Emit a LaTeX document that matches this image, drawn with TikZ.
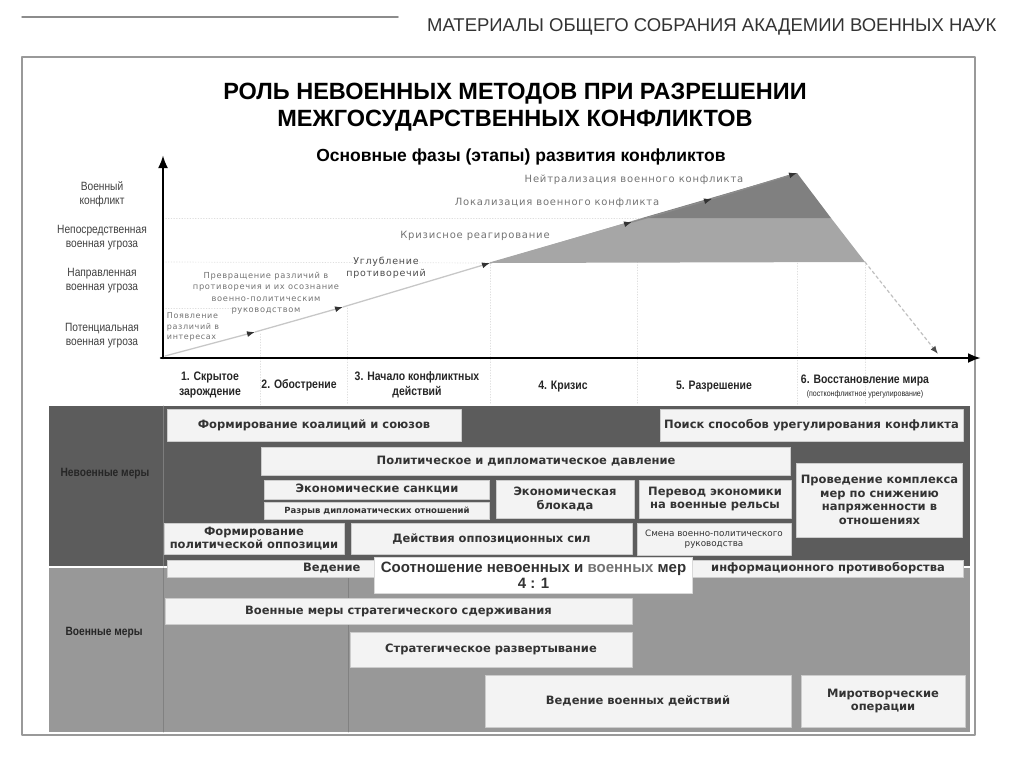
\documentclass[tikz,border=0pt]{standalone}
\usepackage{fontspec}
\setmainfont{DejaVu Sans}
\newfontfamily\arialfont{Liberation Sans}
\newfontfamily\narrowfont[FakeStretch=0.85]{Liberation Sans}
\newfontfamily\spacedfont[LetterSpace=8]{DejaVu Sans}
\usetikzlibrary{arrows.meta}
\definecolor{bandnon}{RGB}{92,92,92}
\definecolor{bandmil}{RGB}{152,152,152}
\definecolor{shadelow}{RGB}{166,166,166}
\definecolor{shadeup}{RGB}{128,128,128}
\definecolor{boxfill}{RGB}{243,243,243}

\begin{document}
\begin{tikzpicture}[x=1pt,y=-1pt,line cap=round,line join=round,>=Latex,
  box/.style={draw=black!20,fill=boxfill,inner sep=1pt,align=center,text=black!80,
    font=\bfseries\fontsize{11.5}{13.5}\selectfont},
  smallbox/.style={box,font=\bfseries\fontsize{8.5}{10}\selectfont},
  tinybox/.style={box,font=\fontsize{8.8}{10.5}\selectfont},
  ylab/.style={align=center,text=black!75,font=\narrowfont\fontsize{12}{14}\selectfont},
  phase/.style={align=center,text=black!85,font=\narrowfont\bfseries\fontsize{12.3}{14.5}\selectfont},
  note/.style={align=center,text=black!55,font=\spacedfont\fontsize{10}{12}\selectfont},
  bandlab/.style={text=black!85,font=\narrowfont\bfseries\fontsize{12}{14}\selectfont},
  gline/.style={black!22,line width=1.3pt},
  tiparrow/.style={gline,-{Latex[length=8pt,width=6pt,color=black!80]}},
  dotline/.style={black!13,dotted,line width=0.7pt}]
  \useasboundingbox (0,0) rectangle (1024,758);

  \draw[black!45,line width=1.5pt] (22,17) -- (398,17);
  \node[anchor=east,text=black!80,font=\arialfont\fontsize{18.5}{20}\selectfont] (hdr) at (1000,27)
    {МАТЕРИАЛЫ ОБЩЕГО СОБРАНИЯ АКАДЕМИИ ВОЕННЫХ НАУК};
  \draw[black!40,line width=1.5pt] (22,735) -- (22,57) -- (975,57) -- (975,735) -- cycle;

  \node[align=center,font=\arialfont\bfseries\fontsize{23.5}{27}\selectfont] (title) at (515,107)
    {РОЛЬ НЕВОЕННЫХ МЕТОДОВ ПРИ РАЗРЕШЕНИИ\\МЕЖГОСУДАРСТВЕННЫХ КОНФЛИКТОВ};
  \node[font=\arialfont\bfseries\fontsize{17.5}{20}\selectfont] (sub) at (521,157)
    {Основные фазы (этапы) развития конфликтов};

  \node[ylab] (yl1) at (102,194) {Военный\\конфликт};
  \node[ylab] (yl2) at (102,238) {Непосредственная\\военная угроза};
  \node[ylab] (yl3) at (102,281) {Направленная\\военная угроза};
  \node[ylab] (yl4) at (102,336) {Потенциальная\\военная угроза};

  \coordinate (o) at (165,356);
  \coordinate (p1) at (255,332);
  \coordinate (p2) at (343,307);
  \coordinate (p3) at (490,263);
  \coordinate (p4) at (632,222);
  \coordinate (p5) at (712,199);
  \coordinate (peak) at (797,173);
  \coordinate (q1) at (642,218);
  \coordinate (q2) at (831,218);
  \coordinate (q3) at (865,262);
  \coordinate (end) at (938,354);

  \draw[dotline] (163,218) -- (q1);
  \draw[dotline] (163,262) -- (p3);
  \draw[dotline] (163,308) -- (260,308);
  \draw[dotline] (260,334) -- (260,405);
  \draw[dotline] (347,308) -- (347,405);
  \draw[dotline] (490,262) -- (490,405);
  \draw[dotline] (637,262) -- (637,405);
  \draw[dotline] (797,174) -- (797,405);
  \draw[dotline] (865,262) -- (865,405);

  \fill[shadelow] (p3) -- (q1) -- (q2) -- (q3) -- cycle;
  \fill[shadeup] (q1) -- (peak) -- (q2) -- cycle;

  \draw[tiparrow] (o) -- (p1);
  \draw[tiparrow] (p1) -- (p2);
  \draw[tiparrow] (p2) -- (p3);
  \draw[tiparrow,black!35] (p3) -- (p4);
  \draw[tiparrow,black!45] (p4) -- (p5);
  \draw[tiparrow,black!45] (p5) -- (peak);
  \draw[black!25,line width=1.2pt,dashed,-{Latex[length=8pt,width=6pt,color=black!70]}] (q3) -- (end);

  \draw[line width=2.6pt,-{Latex[length=13pt,width=10pt]}] (163,358) -- (163,155);
  \draw[line width=2.6pt,-{Latex[length=13pt,width=10pt]}] (161,358) -- (981,358);

  \node[note,align=left,font=\spacedfont\fontsize{8}{10.5}\selectfont] (n1) at (193,327) {Появление\\различий в\\интересах};
  \node[note,font=\spacedfont\fontsize{8.3}{11.5}\selectfont] (n2) at (266,293)
    {Превращение различий в\\противоречия и их осознание\\военно-политическим\\руководством};
  \node[note,text=black!70,font=\spacedfont\fontsize{9.5}{12}\selectfont] (n3) at (386,268) {Углубление\\противоречий};
  \node[note] (n4) at (475,236) {Кризисное реагирование};
  \node[note] (n5) at (557,203) {Локализация военного конфликта};
  \node[note] (n6) at (634,180) {Нейтрализация военного конфликта};

  \node[phase] (ph1) at (210,385) {1. Скрытое\\зарождение};
  \node[phase] (ph2) at (299,385) {2. Обострение};
  \node[phase] (ph3) at (417,385) {3. Начало конфликтных\\действий};
  \node[phase] (ph4) at (563,387) {4. Кризис};
  \node[phase] (ph5) at (714,387) {5. Разрешение};
  \node[phase] (ph6) at (865,380) {6. Восстановление мира};
  \node[phase,font=\narrowfont\fontsize{8.3}{9}\selectfont] (ph6b) at (865,394) {(постконфликтное урегулирование)};

  \fill[bandnon] (49,406) rectangle (970,566);
  \fill[bandmil] (49,568) rectangle (970,732);
  \draw[bandnon!80!white,line width=0.8pt] (163,406) -- (163,566);
  \draw[bandmil!85!black,line width=0.8pt] (163,568) -- (163,732) (348,568) -- (348,732);
  \node[bandlab] (nonmil) at (105,474) {Невоенные меры};
  \node[bandlab] (mil) at (104,633) {Военные меры};

  \node[box,minimum width=294pt,minimum height=32pt] (koal) at (314,425) {Формирование коалиций и союзов};
  \node[box,minimum width=303pt,minimum height=32pt] (poisk) at (811.5,425.5) {Поиск способов урегулирования конфликта};
  \node[box,minimum width=529pt,minimum height=28pt] (davl) at (526,461) {Политическое и дипломатическое давление};
  \node[box,minimum width=225pt,minimum height=19pt] (sank) at (377,489.5) {Экономические санкции};
  \node[smallbox,minimum width=225pt,minimum height=17pt] (razryv) at (377,511) {Разрыв дипломатических отношений};
  \node[box,minimum width=138pt,minimum height=38pt] (blok) at (565,499) {Экономическая\\блокада};
  \node[box,minimum width=152pt,minimum height=38pt] (perevod) at (715,499) {Перевод экономики\\на военные рельсы};
  \node[box,minimum width=166pt,minimum height=74pt] (snizh) at (879.5,500) {Проведение комплекса\\мер по снижению\\напряженности в\\отношениях};
  \node[box,minimum width=180pt,minimum height=31pt] (oppoz) at (254,538.5) {Формирование\\политической оппозиции};
  \node[box,minimum width=281pt,minimum height=31pt] (deistv) at (491.5,538.5) {Действия оппозиционных сил};
  \node[tinybox,minimum width=154pt,minimum height=32pt] (smena) at (714,539) {Смена военно-политического\\руководства};

  \node[box,minimum width=207pt,minimum height=17pt,text width=180pt,inner xsep=0pt,align=right] (ved) at (270.5,568.5) {Ведение};
  \node[box,minimum width=271pt,minimum height=17pt] (info) at (828,568.5) {информационного противоборства};
  \node[box,fill=white,draw=black!15,minimum width=318pt,minimum height=36pt,
    font=\arialfont\bfseries\fontsize{15}{16}\selectfont] (ratio) at (533.5,575)
    {Соотношение невоенных и {\color{black!55}военных} мер\\4 : 1};

  \node[box,minimum width=467pt,minimum height=26pt] (sderzh) at (398.5,611) {Военные меры стратегического сдерживания};
  \node[box,minimum width=282pt,minimum height=35pt] (razv) at (491,649.5) {Стратегическое развертывание};
  \node[box,minimum width=306pt,minimum height=52pt] (voen) at (638,701) {Ведение военных действий};
  \node[box,minimum width=164pt,minimum height=52pt] (mir) at (883,701) {Миротворческие\\операции};
\end{tikzpicture}
\end{document}
